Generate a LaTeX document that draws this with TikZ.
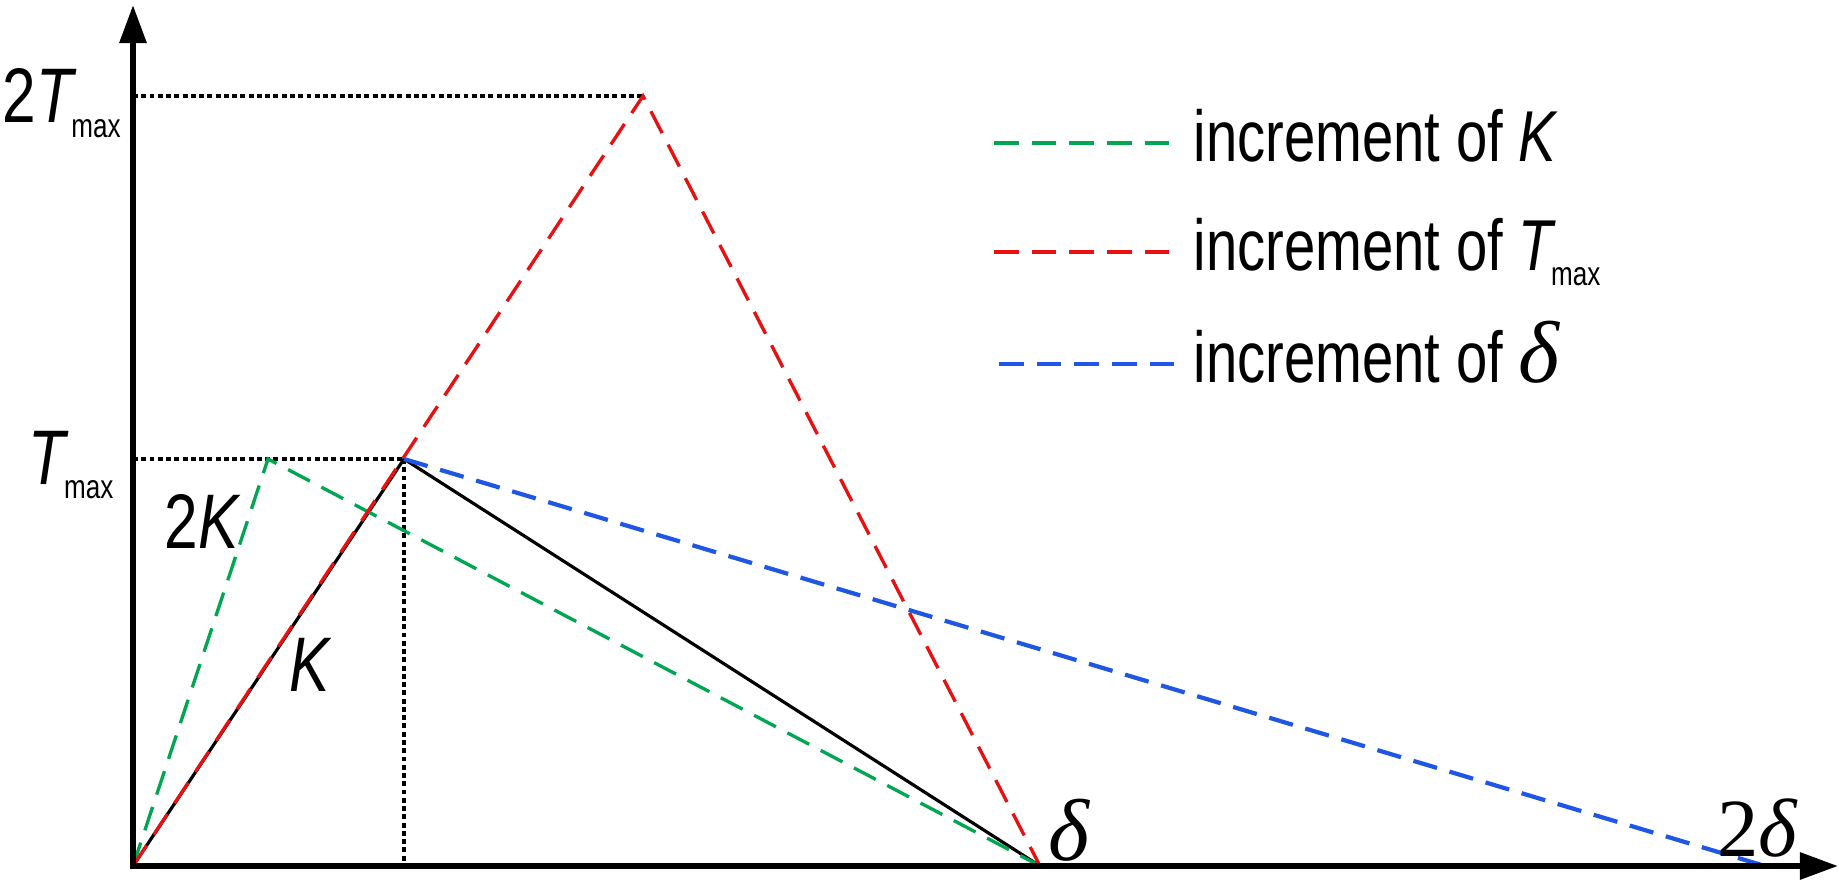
\documentclass[tikz,border=0pt]{standalone}
\usepackage{fontspec}
\setmainfont{Liberation Sans}[FakeStretch=0.78]
\newfontfamily\grfont{Liberation Serif}
\usetikzlibrary{arrows.meta}
\definecolor{incgreen}{RGB}{0,166,82}
\definecolor{incred}{RGB}{232,16,16}
\definecolor{incblue}{RGB}{32,86,228}
\newcommand{\tmaxlabel}{\textit{T}\kern-1.5pt\raisebox{-4pt}{\fontsize{9.5}{10}\selectfont max}}
\newcommand{\dlt}{{\grfont\itshape δ}}

\begin{document}
\begin{tikzpicture}[x=0.01cm,y=-0.01cm,
  every node/.style={font=\fontsize{20.5}{24}\selectfont,inner sep=0pt},
  axisline/.style={line width=1.7pt,{Triangle[length=0.38cm,width=0.26cm]}-{Triangle[length=0.38cm,width=0.26cm]}},
  guide/.style={line width=0.95pt,dash pattern=on 1.4pt off 0.95pt},
  incline/.style={line width=0.95pt,dash pattern=on 7pt off 3.7pt},
  sidelabel/.style={font=\fontsize{22}{26}\selectfont},
  dltlabel/.style={font=\fontsize{25}{28}\selectfont}]
\useasboundingbox (0,0) rectangle (1839,882);

% points of the curves
\coordinate (O) at (133,866);
\coordinate (ytip) at (133,5);
\coordinate (xtip) at (1838,866);
\coordinate (P) at (404,459);
\coordinate (G) at (268,459);
\coordinate (R) at (643,96);
\coordinate (D) at (1040,866);
\coordinate (DD) at (1765,866);
\coordinate (Pfoot) at (404,866);
\coordinate (Tlev) at (133,459);
\coordinate (TTlev) at (133,96);

% guides
\draw[guide] (TTlev) -- (R);
\draw[guide] (Tlev) -- (P);
\draw[guide] (P) -- (Pfoot);

% original curve and increments
\draw[line width=0.9pt] (O) -- (P) -- (D);
\draw[incline,incgreen] (O) -- (G) -- (D);
\draw[incline,incred] (O) -- (R) -- (D);
\draw[incline,incblue,line width=1.2pt] (P) -- (DD);

\draw[axisline] (ytip) -- (O) -- (xtip);

% axis labels
\node[sidelabel,anchor=base west] (ttmax) at (2,123) {2\tmaxlabel};
\node[sidelabel,anchor=base east] (tmax) at (114,484) {\tmaxlabel};
\node[sidelabel] (twok) at (203,521) {2\textit{K}};
\node[sidelabel] (k) at (311,665) {\textit{K}};
\node[dltlabel] (dl) at (1069,830) {\dlt};
\node[dltlabel,font=\fontsize{23.5}{26}\selectfont] (ddl) at (1757,828) {{\grfont 2}\dlt};

% legend
\coordinate (gA) at (994,143);
\coordinate (gB) at (1172,143);
\coordinate (rA) at (994,252);
\coordinate (rB) at (1172,252);
\coordinate (bA) at (999,364);
\coordinate (bB) at (1176,364);
\draw[incline,incgreen] (gA) -- (gB);
\draw[incline,incred] (rA) -- (rB);
\draw[incline,incblue,line width=1.2pt] (bA) -- (bB);
\node[anchor=base west] (legk) at (1193,162) {increment of \textit{K}};
\node[anchor=base west] (legt) at (1193,271) {increment of \tmaxlabel};
\node[anchor=base west] (legd) at (1193,383) {increment of {\fontsize{25}{28}\selectfont\dlt}};
\end{tikzpicture}
\end{document}
